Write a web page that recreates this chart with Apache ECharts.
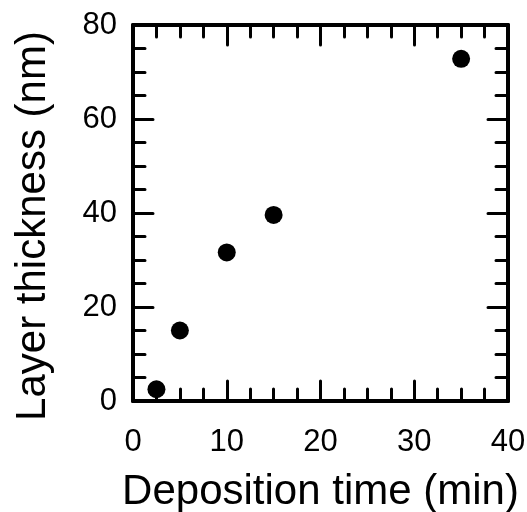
<!DOCTYPE html>
<html>
<head>
<meta charset="utf-8">
<script src="https://cdn.jsdelivr.net/npm/echarts@6/dist/echarts.min.js"></script>
<style>html,body{margin:0;padding:0;background:#fff}#c{width:527px;height:512px}</style>
</head>
<body>
<div id="c"></div>
<script>
const depositionTime = [2.5, 5, 10, 15, 35];
const layerThickness = [2.5, 15, 31.6, 39.6, 72.8];
const xTicks = [0, 10, 20, 30, 40];
const yTicks = [0, 20, 40, 60, 80];

const chart = echarts.init(document.getElementById('c'), null, {renderer: 'canvas'});
const font = 'Liberation Sans, Arial, sans-serif';
const lineW = 4;
function axisBase(show) {
  return {
    axisLine: {show: true, onZero: false, lineStyle: {color: '#000', width: lineW}},
    axisTick: {show: true, inside: true, length: 20, lineStyle: {color: '#000', width: 3, cap: 'round'}},
    minorTick: {show: true, splitNumber: 4, length: 12, lineStyle: {color: '#000', width: 3, cap: 'round'}},
    splitLine: {show: false},
    axisLabel: {show: show, color: '#000', fontFamily: font, fontSize: 31}
  };
}
const xMin = xTicks[0], xMax = xTicks[xTicks.length - 1];
const yMin = yTicks[0], yMax = yTicks[yTicks.length - 1];
const option = {
  animation: false,
  grid: {left: 133, right: 19, top: 25, bottom: 111, containLabel: false, outerBoundsMode: 'none'},
  xAxis: [
    Object.assign(axisBase(true), {
      type: 'value', min: xMin, max: xMax, interval: xTicks[1] - xTicks[0], position: 'bottom',
      name: 'Deposition time (min)', nameLocation: 'middle', nameGap: 70,
      nameTextStyle: {color: '#000', fontFamily: font, fontSize: 42, padding: [0, 0, 0, 0]},
      axisLabel: {show: true, color: '#000', fontFamily: font, fontSize: 31, margin: 26}
    }),
    Object.assign(axisBase(false), {
      type: 'value', min: xMin, max: xMax, interval: xTicks[1] - xTicks[0], position: 'top'
    })
  ],
  yAxis: [
    Object.assign(axisBase(true), {
      type: 'value', min: yMin, max: yMax, interval: yTicks[1] - yTicks[0], position: 'left',
      name: 'Layer thickness (nm)', nameLocation: 'middle', nameGap: 79,
      nameTextStyle: {color: '#000', fontFamily: font, fontSize: 42, padding: [0, 26, 0, 0]},
      axisLabel: {show: true, color: '#000', fontFamily: font, fontSize: 31, margin: 16}
    }),
    Object.assign(axisBase(false), {
      type: 'value', min: yMin, max: yMax, interval: yTicks[1] - yTicks[0], position: 'right'
    })
  ],
  series: [{
    type: 'scatter',
    xAxisIndex: 0, yAxisIndex: 0,
    symbol: 'circle', symbolSize: 18,
    itemStyle: {color: '#000', opacity: 1},
    data: depositionTime.map((x, i) => [x, layerThickness[i]])
  }]
};
chart.setOption(option);
</script>
</body>
</html>
